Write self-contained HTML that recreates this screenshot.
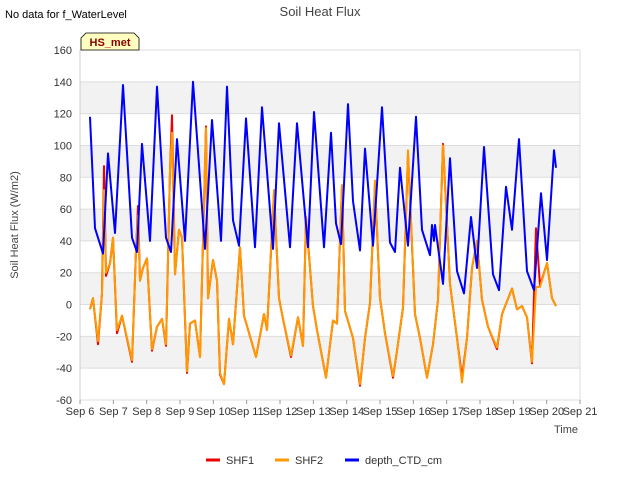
<!DOCTYPE html>
<html><head><meta charset="utf-8"><style>
body{margin:0;background:#fff;font-family:"Liberation Sans",sans-serif;}
svg text{font-family:"Liberation Sans",sans-serif;}
</style></head><body>
<svg width="640" height="480" viewBox="0 0 640 480">
<g id="bands"></g><g id="grid"></g>
<text x="320" y="16" text-anchor="middle" font-size="13" fill="#444">Soil Heat Flux</text>
<text x="5" y="18" font-size="11" fill="#000">No data for f_WaterLevel</text>
<g>
<path d="M81,50 L81,38 L86,33 L134,33 L139,38 L139,50 Z" fill="#ffffc0" stroke="#000" stroke-width="0.8"/>
<text x="110" y="46" text-anchor="middle" font-size="11" font-weight="bold" fill="#8b0000">HS_met</text>
</g>
<text transform="translate(18,225) rotate(-90)" text-anchor="middle" font-size="11" fill="#444">Soil Heat Flux (W/m2)</text>
<text x="578" y="433" text-anchor="end" font-size="11" fill="#444">Time</text>
<g id="yticks"></g><g id="xticks"></g><g id="series"></g>
<g>
<line x1="206" y1="460" x2="220" y2="460" stroke="#e00" stroke-width="3"/>
<text x="226" y="464" font-size="11" fill="#333">SHF1</text>
<line x1="275" y1="460" x2="289" y2="460" stroke="#f90" stroke-width="3"/>
<text x="295" y="464" font-size="11" fill="#333">SHF2</text>
<line x1="345" y1="460" x2="359" y2="460" stroke="#00f" stroke-width="3"/>
<text x="365" y="464" font-size="11" fill="#333">depth_CTD_cm</text>
</g>
</svg>
<script>
const yTicks=[-60,-40,-20,0,20,40,60,80,100,120,140,160];
const xLabels=["Sep 6","Sep 7","Sep 8","Sep 9","Sep 10","Sep 11","Sep 12","Sep 13","Sep 14","Sep 15","Sep 16","Sep 17","Sep 18","Sep 19","Sep 20","Sep 21"];
const depthT=[0.30,0.45,0.69,0.84,1.05,1.29,1.56,1.71,1.86,2.10,2.31,2.58,2.73,2.91,3.15,3.39,3.75,3.96,4.23,4.41,4.59,4.77,4.98,5.25,5.46,5.79,5.97,6.30,6.51,6.84,7.02,7.32,7.53,7.68,7.83,8.04,8.19,8.40,8.55,8.79,9.06,9.30,9.45,9.60,9.84,10.08,10.26,10.50,10.56,10.62,10.65,10.89,11.10,11.31,11.52,11.73,11.91,12.12,12.39,12.57,12.78,12.96,13.17,13.41,13.62,13.83,14.01,14.22,14.28];
const depthV=[118,48,32,95,45,138,42,33,101,40,137,42,33,104,40,140,35,116,40,137,53,37,117,36,124,35,114,36,114,36,121,36,108,51,38,126,65,34,98,37,124,39,33,86,37,118,47,31,50,40,50,13,92,21,7,55,23,99,19,9,74,47,104,21,9,70,28,97,86];
const shfT=[0.30,0.39,0.54,0.66,0.72,0.78,0.90,0.99,1.11,1.26,1.56,1.68,1.74,1.80,1.89,2.01,2.16,2.31,2.46,2.58,2.70,2.76,2.85,2.97,3.06,3.21,3.30,3.45,3.60,3.78,3.84,3.99,4.11,4.20,4.32,4.47,4.59,4.80,4.92,5.28,5.52,5.61,5.82,5.97,6.09,6.33,6.54,6.69,6.78,6.99,7.11,7.38,7.59,7.71,7.86,7.95,8.19,8.40,8.55,8.70,8.85,9.00,9.15,9.39,9.51,9.69,9.84,10.05,10.20,10.41,10.59,10.74,10.89,11.10,11.31,11.46,11.61,11.76,11.91,12.06,12.24,12.51,12.66,12.96,13.11,13.26,13.41,13.56,13.68,13.80,14.01,14.16,14.28];
const shf2V=[-3,4,-23,7,72,20,26,42,-16,-7,-35,34,56,15,23,29,-28,-14,-9,-25,84,108,19,47,42,-42,-12,-10,-33,111,4,28,15,-43,-50,-9,-25,36,-7,-33,-6,-16,72,4,-9,-32,-8,-26,55,-1,-16,-46,-10,-12,75,-4,-21,-50,-21,1,78,4,-18,-45,-29,-2,97,-6,-21,-46,-25,3,100,13,-21,-49,-21,23,40,3,-14,-27,-6,10,-3,-1,-8,-36,11,11,26,4,-1];
const shf1V=[-3,4,-25,7,87,18,26,42,-18,-7,-36,34,62,15,23,29,-29,-14,-9,-26,84,119,19,47,42,-43,-12,-10,-33,112,4,28,15,-44,-50,-9,-25,36,-7,-33,-6,-16,70,4,-9,-33,-8,-26,55,-1,-16,-46,-10,-12,75,-4,-21,-51,-21,1,76,4,-18,-46,-29,-2,95,-6,-21,-46,-25,3,101,13,-21,-46,-21,23,40,3,-14,-28,-6,10,-3,-1,-8,-37,48,12,26,4,-1];
const X0=80,X1=580,Y0=400,Y1=50;
const xs=t=>X0+t*(X1-X0)/15;
const ys=v=>Y0-(v+60)*(Y0-Y1)/220;
const NS="http://www.w3.org/2000/svg";
function mk(tag,attrs,parent){const e=document.createElementNS(NS,tag);for(const k in attrs)e.setAttribute(k,attrs[k]);parent.appendChild(e);return e;}
const bands=document.getElementById('bands'),grid=document.getElementById('grid');
mk('rect',{x:X0,y:Y1,width:X1-X0,height:Y0-Y1,fill:'#fff'},bands);
for(let i=0;i<yTicks.length-1;i++){
  if(i%2===1){const r=mk('rect',{x:X0,y:ys(yTicks[i+1]),width:X1-X0,height:ys(yTicks[i])-ys(yTicks[i+1]),fill:'#f2f2f2'},bands);
  
  }
}
const yt=document.getElementById('yticks');
yTicks.forEach(v=>{
  const l=mk('line',{x1:X0,x2:X1,y1:ys(v),y2:ys(v),stroke:'#ddd','stroke-width':1},grid);
  
  
  const t=mk('text',{x:X0-8,y:ys(v)+4,'text-anchor':'end','font-size':11,fill:'#333'},yt);
  t.textContent=v;
  
  
});
mk('line',{x1:X0,x2:X0,y1:Y1,y2:Y0,stroke:'#ccc'},grid);
mk('line',{x1:X1,x2:X1,y1:Y1,y2:Y0,stroke:'#ddd'},grid);
const xt=document.getElementById('xticks');
xLabels.forEach((s,i)=>{
  mk('line',{x1:xs(i),x2:xs(i),y1:Y0,y2:Y0+4,stroke:'#999'},xt);
  const t=mk('text',{x:xs(i),y:Y0+15,'text-anchor':'middle','font-size':11,fill:'#333'},xt);
  t.textContent=s;
  
  
});
function pathD(T,V){
  return T.map((t,i)=>(i?'L':'M')+xs(t).toFixed(1)+','+ys(V[i]).toFixed(1)).join('');
}
const sg=document.getElementById('series');
const s1=mk('path',{d:pathD(shfT,shf1V),fill:'none',stroke:'#e00','stroke-width':2,'stroke-linejoin':'round'},sg);


const s2=mk('path',{d:pathD(shfT,shf2V),fill:'none',stroke:'#f90','stroke-width':2,'stroke-linejoin':'round'},sg);


const s3=mk('path',{d:pathD(depthT,depthV),fill:'none',stroke:'#00f','stroke-width':2,'stroke-linejoin':'round'},sg);


</script>
</body></html>
